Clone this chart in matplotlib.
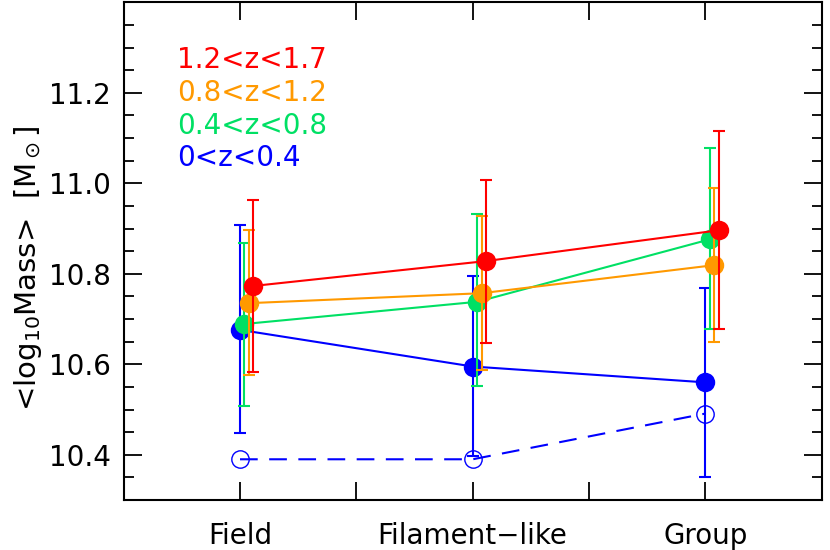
import matplotlib
matplotlib.use("Agg")
import matplotlib.pyplot as plt
from matplotlib.ticker import MultipleLocator

categories = ["Field", "Filament\u2212like", "Group"]
series_labels = ["0<z<0.4", "0.4<z<0.8", "0.8<z<1.2", "1.2<z<1.7"]
series_colors = ["#0000FF", "#00E064", "#FF9900", "#FF0000"]
mass = [
    [10.676, 10.595, 10.560],
    [10.689, 10.738, 10.876],
    [10.735, 10.757, 10.819],
    [10.773, 10.828, 10.896],
]
err_hi = [
    [10.907, 10.795, 10.769],
    [10.868, 10.931, 11.077],
    [10.896, 10.928, 10.990],
    [10.963, 11.007, 11.116],
]
err_lo = [
    [10.447, 10.397, 10.350],
    [10.507, 10.551, 10.677],
    [10.577, 10.588, 10.650],
    [10.582, 10.648, 10.677],
]
open_mass = [10.390, 10.390, 10.491]
y_ticks = [10.4, 10.6, 10.8, 11.0, 11.2]
y_ticklabels = ["10.4", "10.6", "10.8", "11.0", "11.2"]

plt.rcParams['font.family'] = ['DejaVu Sans']
fig = plt.figure(figsize=(8.3, 5.5), dpi=100)
ax = fig.add_axes([0.149, 0.0909, 0.841, 0.905])

xpos = [1, 2, 3]
offsets = [0.0, 0.019, 0.038, 0.057]

# open circles (dashed)
ax.plot(xpos, open_mass, color="#0000FF", ls=(0, (8.5, 5.5)), lw=1.5, zorder=2)
ax.plot(xpos, open_mass, 'o', mfc='none', mec="#0000FF", ms=12.5, mew=1.0, zorder=2)

for i in range(4):
    xs = [x + offsets[i] for x in xpos]
    y = mass[i]
    lo = [y[j] - err_lo[i][j] for j in range(3)]
    hi = [err_hi[i][j] - y[j] for j in range(3)]
    ax.errorbar(xs, y, yerr=[lo, hi], fmt='none', ecolor=series_colors[i],
                elinewidth=1.5, capsize=4, capthick=1.5, zorder=3 + i)
    ax.plot(xs, y, '-', color=series_colors[i], lw=1.5, zorder=3 + i)
    ax.plot(xs, y, 'o', color=series_colors[i], ms=14, mew=0, zorder=3 + i)

ax.set_xlim(0.5, 3.5)
ax.set_ylim(10.3, 11.4)
ax.set_xticks(xpos)
ax.set_xticks([1.5, 2.5], minor=True)
ax.set_xticklabels(categories)
ax.set_yticks(y_ticks)
ax.set_yticklabels(y_ticklabels)
ax.yaxis.set_minor_locator(MultipleLocator(0.05))
ax.tick_params(axis='both', which='both', direction='in', top=True, right=True,
               width=1.3, labelsize=20)
ax.tick_params(axis='x', which='both', length=13, pad=16)
ax.tick_params(axis='y', which='major', length=13, pad=9)
ax.tick_params(axis='y', which='minor', length=7)
for s in ax.spines.values():
    s.set_linewidth(1.5)

fig.text(0.034, 0.513, r'<log$_{10}$Mass>  [M$_\odot$]', rotation=90,
         ha='center', va='center', fontsize=21)

legend_y = [0.8835, 0.817, 0.751, 0.687]
for k, i in enumerate([3, 2, 1, 0]):
    ax.text(0.077, legend_y[k], series_labels[i], color=series_colors[i],
            transform=ax.transAxes, fontsize=20, ha='left', va='center')

fig.savefig("out.png", dpi=100)
